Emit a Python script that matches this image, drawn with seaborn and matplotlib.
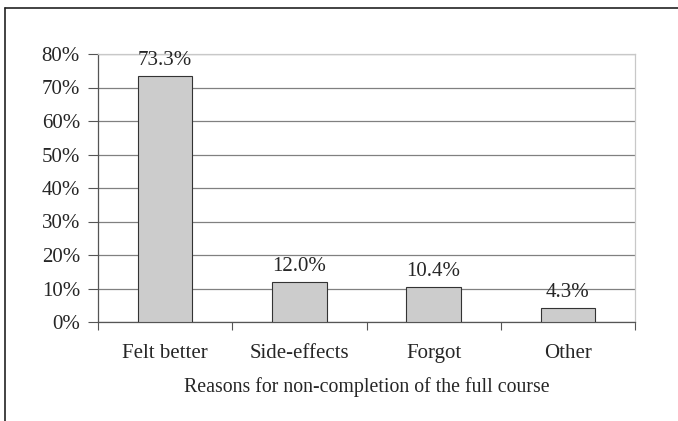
import numpy as np
import pandas as pd
import matplotlib
matplotlib.use('Agg')
import matplotlib.pyplot as plt
from matplotlib.lines import Line2D
from matplotlib.ticker import FuncFormatter, FixedLocator
import seaborn as sns

# Data
reasons = ['Felt better', 'Side-effects', 'Forgot', 'Other']
percent = [73.3, 12.0, 10.4, 4.3]
y_ticks = [0, 10, 20, 30, 40, 50, 60, 70, 80]

sns.set_style('white')
plt.rcParams['font.family'] = ['Liberation Serif', 'DejaVu Serif']

df = pd.DataFrame({'reason': reasons, 'percent': percent})

fig = plt.figure(figsize=(6.78, 4.21), dpi=100)
ax = fig.add_axes([98 / 678, 1 - 322 / 421, (635 - 98) / 678, (322 - 54) / 421])

sns.barplot(data=df, x='reason', y='percent', color='#cccccc', edgecolor='#333333',
            linewidth=0.8, width=0.405, saturation=1, ax=ax, zorder=3)

# value labels above bars
for i, v in enumerate(percent):
    ax.text(i, v + 3.3, f'{v:.1f}%', ha='center', va='baseline', fontsize=15, zorder=4)

ax.set_ylim(0, 80)
ax.set_xlim(-0.5, len(reasons) - 0.5)
ax.set_yticks(y_ticks)
ax.yaxis.set_major_formatter(FuncFormatter(lambda v, p: f'{v:.0f}%'))
ax.yaxis.grid(True, color='#808080', linewidth=0.9, zorder=0)
ax.set_axisbelow(True)

# category ticks sit between categories, labels centered
ax.tick_params(axis='x', which='major', length=0, pad=16, labelsize=15)
ax.xaxis.set_minor_locator(FixedLocator(np.arange(-0.5, len(reasons), 1.0)))
ax.tick_params(axis='x', which='minor', length=6, width=0.8, color='#555555', direction='out')
ax.tick_params(axis='y', length=7, width=0.8, color='#555555', direction='out', labelsize=15, pad=6)
ax.tick_params(axis='both', which='both', bottom=True, left=True)

ax.set_xlabel('Reasons for non-completion of the full course', fontsize=14.3, labelpad=10)
ax.set_ylabel('')

for side in ['left', 'bottom']:
    ax.spines[side].set_color('#555555')
    ax.spines[side].set_linewidth(0.9)
for side in ['top', 'right']:
    ax.spines[side].set_color('#c8c8c8')
    ax.spines[side].set_linewidth(0.9)

# outer chart frame (top and left edges visible in the reference)
fig.add_artist(Line2D([5 / 678, 1.0], [1 - 8 / 421, 1 - 8 / 421], color='#222222', linewidth=1.2,
                      transform=fig.transFigure))
fig.add_artist(Line2D([5 / 678, 5 / 678], [0.0, 1 - 8 / 421], color='#222222', linewidth=1.2,
                      transform=fig.transFigure))

fig.savefig('out.png', dpi=100)
